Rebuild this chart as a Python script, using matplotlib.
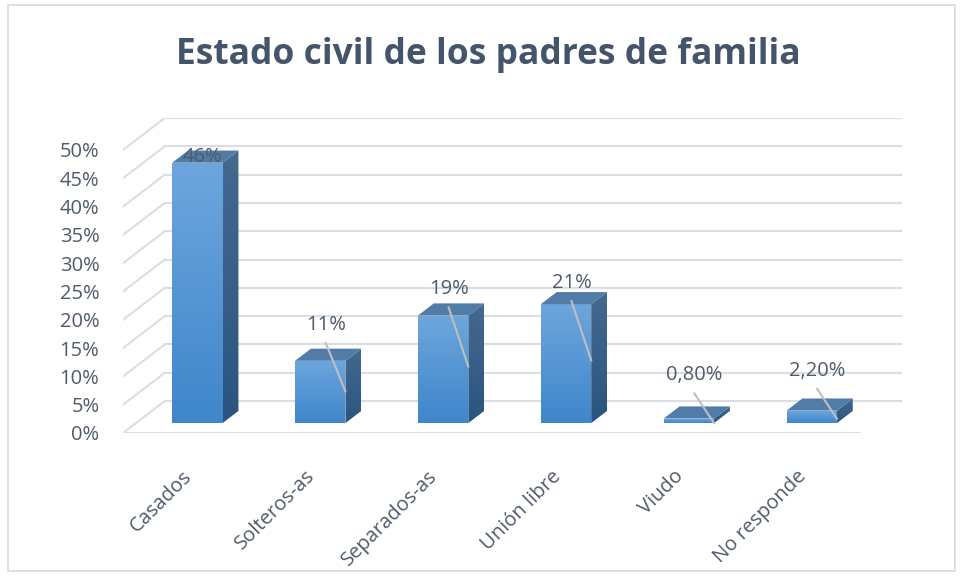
import numpy as np
import matplotlib
matplotlib.use('Agg')
from matplotlib import pyplot as plt
from matplotlib.patches import Polygon, Rectangle
from matplotlib.colors import LinearSegmentedColormap

# data
categorias = ['Casados', 'Solteros-as', 'Separados-as', 'Unión libre', 'Viudo', 'No responde']
valores = [46, 11, 19, 21, 0.8, 2.2]
etiquetas = ['46%', '11%', '19%', '21%', '0,80%', '2,20%']
y_ticks = [0, 5, 10, 15, 20, 25, 30, 35, 40, 45, 50]

# label placement above the bars (in % units) and leader flag
label_dy = [2.8, 8.1, 6.4, 5.5, 9.4, 8.8]
leader = [False, True, True, True, True, True]

# fake 3d depth
DX = 0.34   # depth offset in category units
DY = 5.65   # depth offset in % units
d0, d1 = 0.31, 0.69  # bar front/back depth
w = 0.41

txt_col = '#4f5b6b'
grid_col = '#dadde3'

def proj(x, y, d):
    return (x + d * DX, y + d * DY)

fig = plt.figure(figsize=(9.62, 5.79), dpi=100)
ax = fig.add_axes([123/962, (579-433)/579, (902-123)/962, (433-118)/579])
ax.set_xlim(-0.5, 5.5 + DX)
ax.set_ylim(0, 50 + DY)

# walls / gridlines
x0, x1 = -0.5, 5.5
for t in y_ticks:
    ax.plot([x0, x0 + DX], [t, t + DY], color=grid_col, lw=1.5, zorder=1)
    ax.plot([x0 + DX, x1 + DX], [t + DY, t + DY], color=grid_col, lw=1.5, zorder=1)
ax.plot([x0, x1], [0, 0], color=grid_col, lw=1.5, zorder=1)

front_cmap = LinearSegmentedColormap.from_list('f', ['#3f86cb', '#6da6dd'])
side_cmap = LinearSegmentedColormap.from_list('s', ['#2a5580', '#45698f'])
grad = np.linspace(0, 1, 100).reshape(-1, 1)

def grad_poly(pts, cmap, z):
    poly = Polygon(pts, closed=True, facecolor='none', edgecolor='none', zorder=z)
    ax.add_patch(poly)
    xs = [p[0] for p in pts]
    ys = [p[1] for p in pts]
    im = ax.imshow(grad, cmap=cmap, origin='lower', aspect='auto',
                   extent=[min(xs), max(xs), min(ys), max(ys)], zorder=z)
    im.set_clip_path(poly)

for i, v in enumerate(valores):
    xl, xr = i - w/2, i + w/2
    front = [proj(xl, 0, d0), proj(xr, 0, d0), proj(xr, v, d0), proj(xl, v, d0)]
    side = [proj(xr, 0, d0), proj(xr, 0, d1), proj(xr, v, d1), proj(xr, v, d0)]
    top = [proj(xl, v, d0), proj(xr, v, d0), proj(xr, v, d1), proj(xl, v, d1)]
    grad_poly(front, front_cmap, 3)
    grad_poly(side, side_cmap, 3)
    ax.add_patch(Polygon(top, closed=True, facecolor='#517ca8', edgecolor='none', zorder=3))

    lx = i + 0.15
    ly = v + label_dy[i]
    ax.text(lx, ly, etiquetas[i], ha='center', va='center', fontsize=14.5,
            color=txt_col, family='Open Sans', zorder=5)
    if leader[i]:
        ex, ey = proj(xr, 0.55 * v + 1.3 - d0 * DY, d0)
        ax.plot([lx, ex], [ly - 3.2, ey], color='#bfbfbf', lw=1.5, zorder=4)

ax.set_yticks(y_ticks)
ax.set_yticklabels([f'{t}%' for t in y_ticks])
ax.set_xticks(np.arange(len(categorias)) - 0.02)
ax.set_xticklabels(categorias, rotation=45, ha='right', rotation_mode='anchor')
ax.tick_params(axis='both', length=0, labelsize=14.5, labelcolor=txt_col)
ax.tick_params(axis='y', pad=17)
ax.tick_params(axis='x', pad=24)
for lab in ax.get_xticklabels() + ax.get_yticklabels():
    lab.set_family('Open Sans')
for s in ax.spines.values():
    s.set_visible(False)
ax.patch.set_alpha(0)

fig.text(488/962, 1 - 55/579, 'Estado civil de los padres de familia', ha='center',
         va='center', fontsize=25.5, fontweight='bold', color='#44546a', family='Open Sans')

fig.patches.append(Rectangle((8/962, 1 - 571/579), (955-8)/962, (571-5)/579,
                             transform=fig.transFigure, fill=False,
                             edgecolor='#d9d9d9', lw=1.2))

fig.savefig('out.png', dpi=100)
